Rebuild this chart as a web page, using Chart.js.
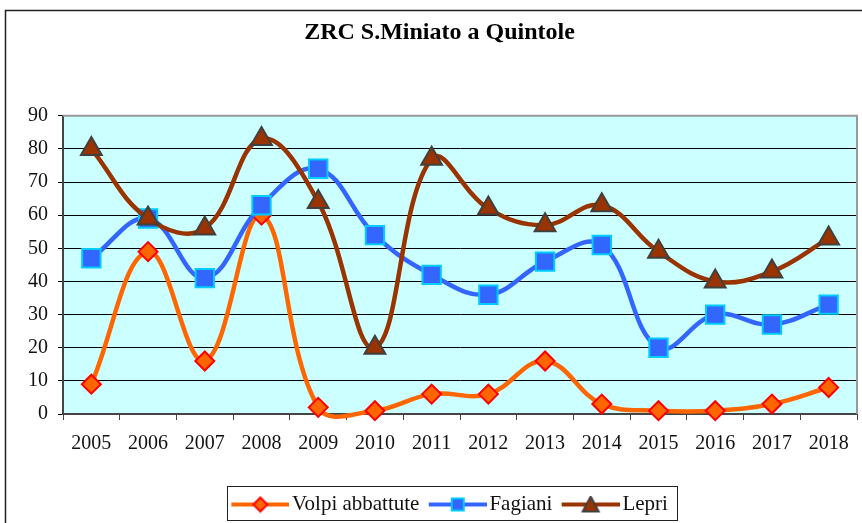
<!DOCTYPE html>
<html>
<head>
<meta charset="utf-8">
<script src="https://cdn.jsdelivr.net/npm/chart.js@4"></script>
<style>
  html, body { margin: 0; padding: 0; background: #fff; }
  #wrap { width: 862px; height: 523px; }
</style>
</head>
<body>
<div id="wrap"><canvas id="myChart" width="862" height="523"></canvas></div>
<script>
var years, volpi, fagiani, lepri, yTicks, ctx, symbol, frame, myChart;

years = ['2005', '2006', '2007', '2008', '2009', '2010', '2011', '2012', '2013', '2014', '2015', '2016', '2017', '2018'];
volpi = [9, 49, 16, 60, 2, 1, 6, 6, 16, 3, 1, 1, 3, 8];
fagiani = [47, 59, 41, 63, 74, 54, 42, 36, 46, 51, 20, 30, 27, 33];
lepri = [80, 59, 56, 83, 64, 20, 77, 62, 57, 63, 49, 40, 43, 53];
yTicks = [0, 10, 20, 30, 40, 50, 60, 70, 80, 90];

// small legend picture: line with marker in the middle
// (left 8px kept empty so the picture sits flush with the legend item start)
symbol = function(line, fill, border, shape) {
  var c = document.createElement('canvas'), g, m = 37;
  c.width = 66; c.height = 18;
  g = c.getContext('2d');
  g.strokeStyle = line; g.lineWidth = 4;
  g.beginPath(); g.moveTo(8, 9); g.lineTo(66, 9); g.stroke();
  g.fillStyle = fill; g.strokeStyle = border; g.lineWidth = 2;
  g.beginPath();
  if (shape === 'diamond') {
    g.moveTo(m, 2); g.lineTo(m + 7, 9); g.lineTo(m, 16); g.lineTo(m - 7, 9); g.closePath();
  } else if (shape === 'square') {
    g.rect(m - 6, 3, 12, 12);
  } else {
    g.moveTo(m, 1); g.lineTo(m + 8, 16); g.lineTo(m - 8, 16); g.closePath();
  }
  g.fill(); g.stroke();
  return c;
};

// plot background, outer frame, plot border and box round the legend
frame = {
  id: 'frame',
  afterLayout: function(chart) {
    // nudge title and legend a bit to the right, like the original
    chart.titleBlock.left += 7; chart.titleBlock.right += 7;
    chart.legend.left += 17; chart.legend.right += 17;
  },
  beforeDraw: function(chart) {
    var c = chart.ctx, a = chart.chartArea;
    c.save();
    c.fillStyle = '#ccffff';
    c.fillRect(a.left, a.top, a.right - a.left, a.bottom - a.top);
    c.restore();
  },
  afterDraw: function(chart) {
    var c = chart.ctx, a = chart.chartArea;
    c.save();
    c.strokeStyle = '#222'; c.lineWidth = 1.5;
    c.strokeRect(5.5, 10.5, 880, 600);
    c.strokeStyle = '#999'; c.lineWidth = 2;
    c.beginPath(); c.moveTo(a.left, a.top); c.lineTo(a.right, a.top); c.lineTo(a.right, a.bottom); c.stroke();
    c.strokeStyle = '#222'; c.lineWidth = 1;
    c.strokeRect(227.5, 486.5, 450, 34);
    c.restore();
  }
};

ctx = document.getElementById('myChart').getContext('2d');

myChart = new Chart(ctx, {
  type: 'line',
  data: {
    labels: years,
    datasets: [
      {
        label: 'Volpi abbattute',
        data: volpi,
        order: 2,
        borderColor: '#ff6600',
        backgroundColor: '#ff6600',
        borderWidth: 4.5,
        pointStyle: 'rectRot',
        pointRadius: 9.5,
        pointBorderWidth: 2,
        pointBackgroundColor: '#ff6600',
        pointBorderColor: '#ff0000',
        tension: 0.4,
        clip: 12
      }, {
        label: 'Fagiani',
        data: fagiani,
        order: 1,
        borderColor: '#3366ff',
        backgroundColor: '#3366ff',
        borderWidth: 4.5,
        pointStyle: 'rect',
        pointRadius: 13,
        pointBorderWidth: 2,
        pointBackgroundColor: '#3366ff',
        pointBorderColor: '#00ccff',
        tension: 0.4
      }, {
        label: 'Lepri',
        data: lepri,
        order: 0,
        borderColor: '#993300',
        backgroundColor: '#993300',
        borderWidth: 4.5,
        pointStyle: 'triangle',
        pointRadius: 12,
        pointBorderWidth: 2,
        pointBackgroundColor: '#993300',
        pointBorderColor: '#404040',
        tension: 0.4
      }
    ]
  },
  options: {
    responsive: false,
    animation: false,
    elements: { line: { capBezierPoints: false } },
    layout: { autoPadding: false, padding: { left: 8, right: 5, top: 0, bottom: -2 } },
    plugins: {
      title: {
        display: true,
        text: 'ZRC S.Miniato a Quintole',
        color: '#000',
        font: { family: 'Liberation Serif', size: 24, weight: 'bold' },
        padding: { top: 18, bottom: 69 }
      },
      legend: {
        position: 'bottom',
        labels: {
          usePointStyle: true,
          pointStyleWidth: 50.5,
          boxHeight: 18,
          padding: 9,
          color: '#111',
          font: { family: 'Liberation Serif', size: 21 },
          sort: function(a, b) { return a.datasetIndex - b.datasetIndex; },
          generateLabels: function(chart) {
            return chart.data.datasets.map(function(ds, i) {
              var shape = ['diamond', 'square', 'triangle'][i];
              return {
                text: ds.label,
                datasetIndex: i,
                pointStyle: symbol(ds.borderColor, ds.pointBackgroundColor, ds.pointBorderColor, shape),
                fillStyle: 'transparent',
                strokeStyle: 'transparent',
                lineWidth: 0,
                fontColor: '#111'
              };
            });
          }
        }
      },
      tooltip: { enabled: false }
    },
    scales: {
      x: {
        offset: true,
        grid: { offset: true, drawOnChartArea: false, drawTicks: true, tickLength: 6, color: '#444' },
        border: { color: '#444', width: 2 },
        ticks: { color: '#111', font: { family: 'Liberation Serif', size: 20 }, padding: 12, maxRotation: 0 },
        afterFit: function(scale) { scale.height = 71; }
      },
      y: {
        min: 0,
        max: 90,
        afterBuildTicks: function(scale) { scale.ticks = yTicks.map(function(v) { return { value: v }; }); },
        grid: { color: '#000', lineWidth: 1, tickLength: 5 },
        border: { color: '#444', width: 2 },
        ticks: { color: '#111', font: { family: 'Liberation Serif', size: 20 }, padding: 10 },
        afterFit: function(scale) { scale.width = 55; }
      }
    }
  },
  plugins: [frame]
});
</script>
</body>
</html>
